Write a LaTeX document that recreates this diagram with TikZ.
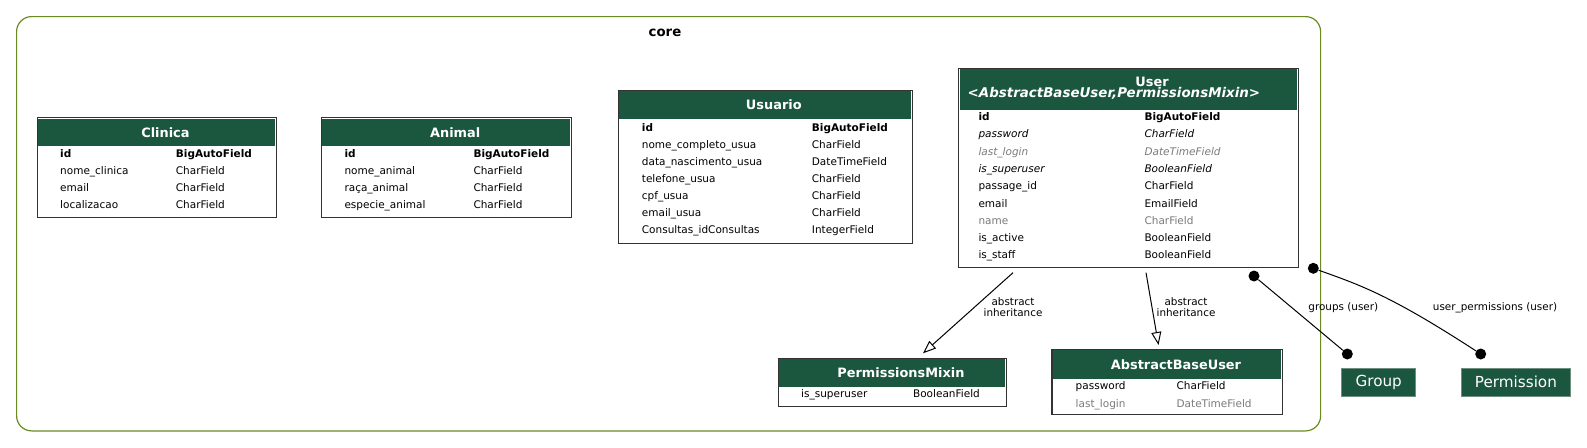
\documentclass[tikz,border=0pt]{standalone}
\usepackage{fontspec}
\setmainfont{DejaVu Sans}
\usetikzlibrary{arrows.meta}
\definecolor{hdr}{HTML}{1B563F}
\definecolor{clus}{HTML}{698B22}
\definecolor{fgray}{HTML}{7B7B7B}
\definecolor{extb}{HTML}{6E8F80}

\newcommand\mktbl[6]{% name, x1, y1, x2, y2, header bottom
  \pgfmathsetmacro\mkTW{#4-#2}\pgfmathsetmacro\mkTH{#5-#3}%
  \pgfmathsetmacro\mkHW{#4-#2-2.4}\pgfmathsetmacro\mkHH{#6-#3-1.2}%
  \node[tbl, minimum width=\mkTW pt, minimum height=\mkTH pt, anchor=north west] (#1) at (#2,#3) {};
  \node[hdrbox, minimum width=\mkHW pt, minimum height=\mkHH pt, anchor=north west] (#1-h) at (#2+1.2,#3+1.2) {};
}
\newcommand\mkrows[6]{% prefix, xname, xtype, y0 (baseline), dy, list
  \foreach \rowst/\rowname/\rowtype [count=\ri] in {#6} {
    \node[\rowst] (#1-n\ri) at (#2, #4+#5*\ri-#5) {\rowname};
    \node[\rowst] (#1-t\ri) at (#3, #4+#5*\ri-#5) {\rowtype};
  }
}

\begin{document}
\begin{tikzpicture}[x=1pt,y=-1pt,
  tbl/.style={draw=black!80, line width=1.1pt, fill=white, inner sep=0pt},
  hdrbox/.style={fill=hdr, inner sep=0pt},
  ttl/.style={text=white, inner sep=0pt, font=\fontsize{12.9}{14}\selectfont\bfseries},
  rowN/.style={anchor=base west, inner sep=0pt, font=\fontsize{10.5}{12}\selectfont},
  rowB/.style={rowN, font=\fontsize{10.5}{12}\selectfont\bfseries},
  rowI/.style={rowN, font=\fontsize{10.5}{12}\selectfont\itshape},
  rowG/.style={rowN, text=fgray},
  rowGI/.style={rowI, text=fgray},
  elabel/.style={inner sep=0pt, align=center, font=\fontsize{10.4}{11}\selectfont},
  extnode/.style={fill=hdr, draw=extb, line width=0.8pt, text=white, inner sep=0pt, font=\fontsize{15.2}{16}\selectfont},
  dotn/.style={circle, fill=black, inner sep=0pt, minimum size=11pt},
  inh/.style={line width=1pt, -{Triangle[open, length=13pt, width=10pt, fill=white]}},
  rel/.style={line width=1pt}
]
\useasboundingbox (0,0) rectangle (1587,447);

% cluster
\node[draw=clus, line width=1.2pt, rounded corners=15pt, minimum width=1304pt, minimum height=414.3pt, anchor=north west, inner sep=0pt] (core) at (16,16) {};
\node[inner sep=0pt, font=\fontsize{13.3}{14}\selectfont\bfseries] (corelbl) at (665,33.3) {core};

% Clinica
\mktbl{clinica}{36.5}{117.3}{276}{216.7}{146}
\node[ttl] (clinica-ttl) at ([xshift=9pt]clinica-h.center) {Clinica};
\mkrows{cl}{60}{175.7}{157.8}{17}{rowB/id/BigAutoField, rowN/nome\_clinica/CharField, rowN/email/CharField, rowN/localizacao/CharField}

% Animal
\mktbl{animal}{321}{117.3}{571}{216.7}{146}
\node[ttl] (animal-ttl) at ([xshift=9pt]animal-h.center) {Animal};
\mkrows{an}{344.3}{473.3}{157.8}{17}{rowB/id/BigAutoField, rowN/nome\_animal/CharField, rowN/raça\_animal/CharField, rowN/especie\_animal/CharField}

% Usuario
\mktbl{usuario}{617.5}{90}{911.7}{243.3}{118.3}
\node[ttl] (usuario-ttl) at ([xshift=9pt]usuario-h.center) {Usuario};
\mkrows{us}{641.7}{811.7}{131.6}{17}{rowB/id/BigAutoField, rowN/nome\_completo\_usua/CharField, rowN/data\_nascimento\_usua/DateTimeField, rowN/telefone\_usua/CharField, rowN/cpf\_usua/CharField, rowN/email\_usua/CharField, rowN/Consultas\_idConsultas/IntegerField}

% User
\mktbl{user}{958.3}{67.7}{1298.3}{266.7}{110}
\node[ttl] (user-ttl1) at (1152,81.7) {User};
\node[ttl, anchor=west, font=\fontsize{13.4}{14}\selectfont\bfseries\itshape] (user-ttl2) at (967.5,93.3) {<AbstractBaseUser,PermissionsMixin>};
\mkrows{ur}{978.3}{1144.3}{120.5}{17.3}{rowB/id/BigAutoField, rowI/password/CharField, rowGI/last\_login/DateTimeField, rowI/is\_superuser/BooleanField, rowN/passage\_id/CharField, rowN/email/EmailField, rowG/name/CharField, rowN/is\_active/BooleanField, rowN/is\_staff/BooleanField}

% PermissionsMixin
\mktbl{pmixin}{777.6}{357.7}{1005.9}{405.7}{386.7}
\node[ttl] (pmixin-ttl) at ([xshift=9pt]pmixin-h.center) {PermissionsMixin};
\mkrows{pm}{801}{912.9}{397.1}{17}{rowN/is\_superuser/BooleanField}

% AbstractBaseUser
\mktbl{abuser}{1051.4}{349}{1282.1}{414.3}{378.3}
\node[ttl] (abuser-ttl) at ([xshift=9pt]abuser-h.center) {AbstractBaseUser};
\mkrows{ab}{1075.5}{1176.4}{389.1}{18}{rowN/password/CharField, rowG/last\_login/DateTimeField}

% external models
\node[extnode, minimum width=74pt, minimum height=27.7pt] (group) at (1378.7,382.2) {Group};
\node[extnode, minimum width=109.7pt, minimum height=27.7pt] (permission) at (1515.9,382.2) {Permission};

% inheritance edges
\coordinate (u-pm) at (1013,272.7);
\coordinate (pm-in) at (923,353.3);
\coordinate (u-ab) at (1146,272.7);
\coordinate (ab-in) at (1158.5,345);
\draw[inh] (u-pm) -- (pm-in);
\draw[inh] (u-ab) -- (ab-in);
\node[elabel] (lbl-pm) at (1013,307.2) {abstract\\inheritance};
\node[elabel] (lbl-ab) at (1186,307.2) {abstract\\inheritance};

% relation edges
\node[dotn] (g-start) at (1254,276) {};
\node[dotn] (g-end) at (1347.3,354) {};
\node[dotn] (p-start) at (1313.3,268.3) {};
\node[dotn] (p-end) at (1480.7,354) {};
\draw[rel] (g-start) -- (g-end);
\draw[rel] (p-start) .. controls (1360,285) and (1390,295) .. (p-end);
\node[elabel] (lbl-g) at (1343.3,307.3) {groups (user)};
\node[elabel] (lbl-p) at (1495,307.3) {user\_permissions (user)};
\end{tikzpicture}
\end{document}
